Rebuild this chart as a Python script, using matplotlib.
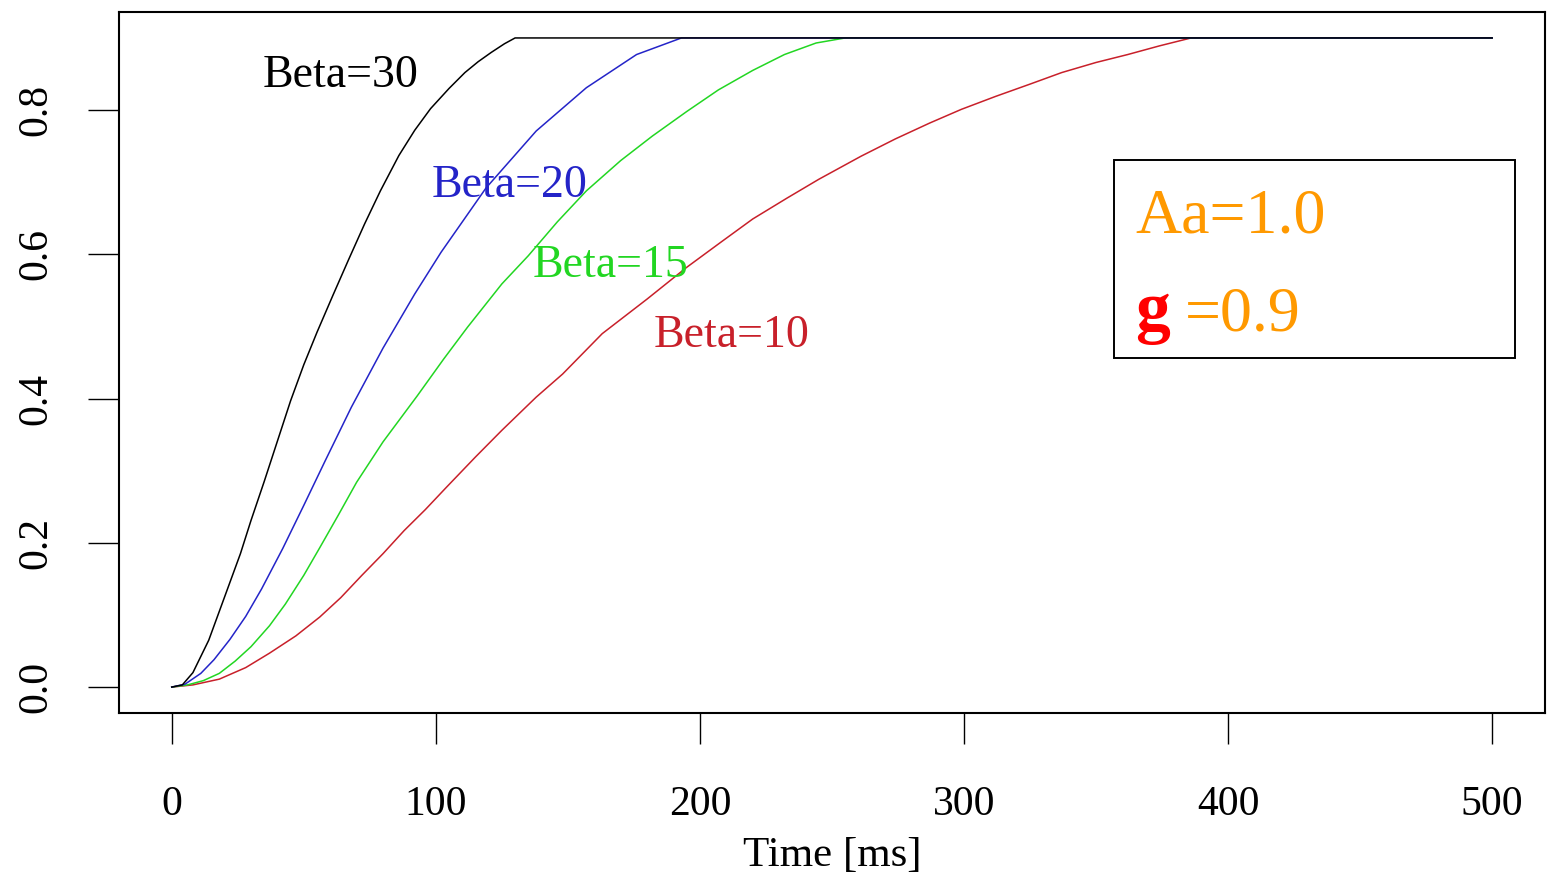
"""Activation rise curves for several Beta values, drawn in R base-graphics style."""
import matplotlib.pyplot as plt
from matplotlib.patches import Rectangle

# time [ms] and activation for each Beta
t_beta10 = [0, 8, 18, 28, 37, 47, 56, 64, 72, 80, 88, 96, 104, 115, 125, 138, 148,
            163, 180, 195, 208, 220, 233, 245, 261, 274, 287, 299, 312, 325, 337,
            350, 362, 374, 386, 500]
a_beta10 = [0, 0.003, 0.011, 0.027, 0.047, 0.071, 0.097, 0.124, 0.155, 0.185, 0.217,
            0.246, 0.277, 0.319, 0.356, 0.402, 0.434, 0.490, 0.538, 0.582, 0.617,
            0.649, 0.678, 0.704, 0.736, 0.760, 0.782, 0.801, 0.819, 0.836, 0.852,
            0.866, 0.877, 0.889, 0.9, 0.9]

t_beta15 = [0, 6, 12, 18, 24, 30, 37, 43, 50, 56, 63, 70, 80, 93, 103, 112, 125, 135,
            146, 157, 170, 182, 195, 207, 220, 232, 244, 255, 500]
a_beta15 = [0, 0.003, 0.009, 0.019, 0.036, 0.056, 0.085, 0.115, 0.155, 0.193, 0.238,
            0.284, 0.340, 0.404, 0.455, 0.499, 0.559, 0.598, 0.645, 0.688, 0.730,
            0.764, 0.798, 0.828, 0.855, 0.877, 0.893, 0.9, 0.9]

t_beta20 = [0, 5, 11, 16, 22, 28, 34, 42, 50, 58, 68, 80, 92, 102, 119, 138, 157,
            176, 193, 500]
a_beta20 = [0, 0.004, 0.019, 0.038, 0.066, 0.098, 0.136, 0.192, 0.252, 0.313, 0.388,
            0.470, 0.545, 0.603, 0.692, 0.771, 0.831, 0.877, 0.9, 0.9]

t_beta30 = [0, 4, 8, 14, 20, 26, 30, 35, 40, 45, 50, 55, 61, 67, 73, 79, 86, 92, 98,
            105, 111, 116, 121, 126, 130, 500]
a_beta30 = [0, 0.003, 0.02, 0.065, 0.125, 0.185, 0.231, 0.285, 0.341, 0.397, 0.447,
            0.492, 0.543, 0.593, 0.642, 0.688, 0.737, 0.772, 0.802, 0.830, 0.852,
            0.867, 0.880, 0.892, 0.9, 0.9]

x_ticks = [0, 100, 200, 300, 400, 500]
y_ticks = [0.0, 0.2, 0.4, 0.6, 0.8]

# label text, position (time, activation) and colour for each curve
labels = ["Beta=10", "Beta=15", "Beta=20", "Beta=30"]
label_pos = [(212, 0.487), (166, 0.584), (128, 0.695), (64, 0.847)]
colors = ["#c8202a", "#22d622", "#2424c8", "black"]

plt.rcParams["font.family"] = ["Liberation Serif", "DejaVu Serif"]

fig = plt.figure(figsize=(15.51, 8.75), dpi=100)
ax = fig.add_axes([0.0767, 0.1851, 0.9194, 0.8012])

series = [(t_beta10, a_beta10), (t_beta15, a_beta15),
          (t_beta20, a_beta20), (t_beta30, a_beta30)]
for (t, a), c in zip(series, colors):
    ax.plot(t, a, color=c, lw=1.1)

for text, (tx, ty), c in zip(labels, label_pos, colors):
    ax.text(tx, ty, text, color=c, fontsize=33, ha="center", va="center")

ax.set_xlim(-20, 520)
ax.set_ylim(-0.036, 0.936)

ax.set_xticks(x_ticks)
ax.set_xticklabels([str(v) for v in x_ticks])
ax.set_yticks(y_ticks)
ax.set_yticklabels([f"{v:.1f}" for v in y_ticks])
ax.tick_params(axis="x", length=22, width=1.0, pad=30, labelsize=30)
ax.tick_params(axis="y", length=22, width=1.0, pad=24, labelsize=30)
for lab in ax.get_yticklabels():
    lab.set_rotation(90)
    lab.set_va("center")

for sp in ax.spines.values():
    sp.set_linewidth(1.5)

# parameter box
ax.add_patch(Rectangle((0.698, 0.506), 0.281, 0.283, transform=ax.transAxes,
                       fill=False, edgecolor="black", lw=1.4))
ax.text(0.7125, 0.686, "Aa=1.0", transform=ax.transAxes, color="#ff9900",
        fontsize=46, ha="left", va="baseline")
ax.text(0.7125, 0.546, "g", transform=ax.transAxes, color="#ff0000",
        fontsize=50, fontweight="bold", ha="left", va="baseline")
ax.text(0.7475, 0.546, "=0.9", transform=ax.transAxes, color="#ff9900",
        fontsize=46, ha="left", va="baseline")

fig.text(832 / 1551, (875 - 836) / 875, "Time [ms]", fontsize=31,
         ha="center", va="top")

fig.savefig("out.png", dpi=100)
